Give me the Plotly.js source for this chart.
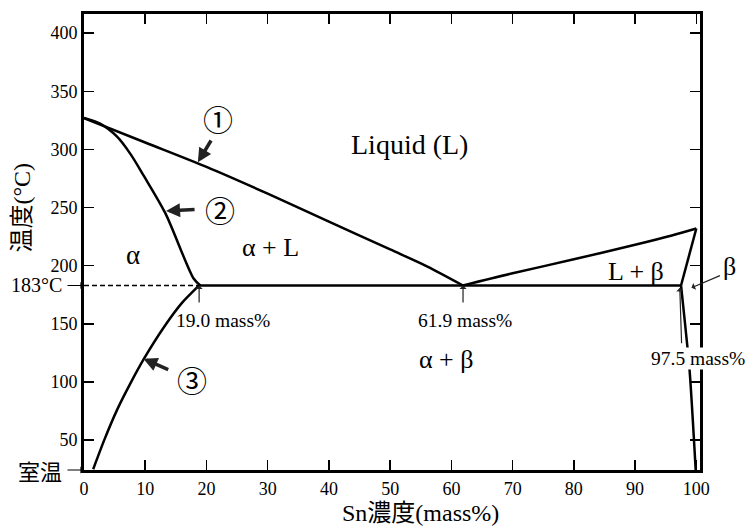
<!DOCTYPE html>
<html>
<head>
<meta charset="utf-8">
<script src="https://cdn.plot.ly/plotly-3.0.1.min.js"></script>
<style>html,body{margin:0;padding:0;background:#fff;}#chart{width:749px;height:531px;}</style>
</head>
<body>
<div id="chart"></div>
<script>
// Pb-Sn phase diagram data (x: Sn mass%, T: °C)
const liquidusLeftX = [0, 10, 20, 30, 40, 50, 56, 61.9];
const liquidusLeftT = [327, 306, 285, 262, 238, 214, 199.5, 183];
const solidusLeftX = [0, 2.7, 5.4, 7.6, 9.8, 13.3, 17.9, 19];
const solidusLeftT = [327, 322, 311, 296, 277, 245, 189, 183];
const solvusLeftX = [1.5, 3.3, 5.4, 7.6, 9.8, 13.1, 16.0, 18.8];
const solvusLeftT = [25, 50, 76, 99, 120, 147.5, 168, 183];
const eutecticX = [18.8, 97.5];
const eutecticT = [183, 183];
const dashedX = [0, 18.8];
const dashedT = [183, 183];
const liquidusRightX = [61.9, 70, 80, 90, 96, 100];
const liquidusRightT = [183, 193.5, 205.5, 218, 226, 232];
const solidusRightX = [97.5, 100];
const solidusRightT = [183, 232];
const solvusRightX = [97.5, 98.9, 99.9];
const solvusRightT = [183, 110, 24];

const xTicks = [0, 10, 20, 30, 40, 50, 60, 70, 80, 90, 100];
const yTicks = [50, 100, 150, 200, 250, 300, 350, 400];

const SERIF = 'Liberation Serif, Noto Sans CJK JP, serif';
const CIRC = 'Noto Sans CJK JP';

function line(x, y, smooth) {
  const l = {color: '#000', width: 2.5};
  if (smooth) { l.shape = 'spline'; l.smoothing = smooth; }
  return {x: x, y: y, mode: 'lines', type: 'scatter', hoverinfo: 'skip',
    line: l, showlegend: false};
}

const traces = [
  line(liquidusLeftX, liquidusLeftT, 0.8),
  line(solidusLeftX, solidusLeftT, 0.8),
  line(solvusLeftX, solvusLeftT, 0.6),
  line(eutecticX, eutecticT),
  {x: dashedX, y: dashedT, mode: 'lines', type: 'scatter', hoverinfo: 'skip', showlegend: false,
    line: {color: '#000', width: 1.3, dash: '5px,3px'}},
  line(liquidusRightX, liquidusRightT, 0.8),
  line(solidusRightX, solidusRightT),
  line(solvusRightX, solvusRightT, 0.6)
];

function txt(x, y, text, size, extra) {
  return Object.assign({x: x, y: y, xref: 'x', yref: 'y', text: text, showarrow: false,
    font: {family: SERIF, size: size, color: '#000'}}, extra || {});
}
function arr(x, y, ax, ay, w, head, size) {
  return {x: x, y: y, ax: ax, ay: ay, xref: 'x', yref: 'y', axref: 'x', ayref: 'y',
    text: '', showarrow: true, arrowcolor: '#222', arrowwidth: w, arrowhead: head, arrowsize: size};
}

const annotations = [
  txt(53.2, 304, 'Liquid (L)', 28),
  txt(30.4, 216, 'α + L', 26),
  txt(8.0, 209, 'α', 27),
  txt(59.2, 119, 'α + β', 26),
  txt(90.2, 195, 'L + β', 26),
  {x: 1.0487, y: 199, xref: 'paper', yref: 'y', xanchor: 'center', text: 'β', showarrow: false,
    font: {family: SERIF, size: 26, color: '#000'}},
  txt(21.9, 327, '①', 30, {font: {family: CIRC, size: 30, color: '#000'}}),
  txt(22.2, 249, '②', 30, {font: {family: CIRC, size: 30, color: '#000'}}),
  txt(17.6, 103, '③', 30, {font: {family: CIRC, size: 30, color: '#000'}}),
  txt(22.7, 153, '19.0 mass%', 19.5),
  txt(62.2, 153, '61.9 mass%', 19.5),
  txt(100.3, 120, '97.5 mass%', 19.5, {bgcolor: '#fff', borderpad: 0}),
  arr(18.6, 289, 20.9, 309, 3.5, 2, 0.8),
  arr(13.4, 247, 18.3, 248.5, 3.5, 2, 0.8),
  arr(9.7, 120, 14.0, 110, 3.5, 2, 0.8),
  arr(18.8, 183, 18.8, 167, 1.2, 1, 1),
  arr(61.9, 183, 61.9, 167, 1.2, 1, 1),
  arr(97.3, 181, 97.6, 132, 1.2, 1, 1),
  arr(99.2, 181, 104.1, 192, 1.2, 1, 1),
  // outside labels on the left
  {x: 0, y: 183, xref: 'x', yref: 'y', ax: -18, ay: 0, text: '', showarrow: true,
    arrowcolor: '#000', arrowwidth: 1.2, arrowhead: 1, arrowsize: 1},
  {x: 0, y: 183, xref: 'x', yref: 'y', xanchor: 'right', xshift: -20, text: '183°C', showarrow: false,
    font: {family: SERIF, size: 20, color: '#000'}},
  {x: 0, y: 24.3, xref: 'x', yref: 'y', ax: -18, ay: 0, text: '', showarrow: true,
    arrowcolor: '#000', arrowwidth: 1.2, arrowhead: 1, arrowsize: 1},
  {x: 0, y: 24.3, xref: 'x', yref: 'y', xanchor: 'right', xshift: -20, text: '室温', showarrow: false,
    font: {family: 'Noto Sans CJK JP', size: 22, color: '#000'}},
  // axis titles
  {x: -0.1006, y: 250, xref: 'paper', yref: 'y', xanchor: 'center', yanchor: 'middle',
    text: '温度(°C)', textangle: -90, showarrow: false,
    font: {family: SERIF, size: 24, color: '#000'}},
  {x: 54.9, y: -0.094, xref: 'x', yref: 'paper', xanchor: 'center', yanchor: 'middle',
    text: 'Sn濃度(mass%)', showarrow: false,
    font: {family: SERIF, size: 24, color: '#000'}}
];

const axisCommon = {
  showgrid: false, zeroline: false, showline: true, linecolor: '#000', linewidth: 3,
  mirror: 'allticks', ticks: 'inside', ticklen: 10, tickwidth: 1.5, tickcolor: '#000',
  tickfont: {family: 'Liberation Serif', size: 18, color: '#000'}
};

const layout = {
  width: 749, height: 531,
  margin: {l: 84, r: 49, t: 14, b: 61},
  paper_bgcolor: '#fff', plot_bgcolor: '#fff',
  showlegend: false,
  xaxis: Object.assign({}, axisCommon, {range: [0, 100.6], tickvals: xTicks, ticktext: xTicks.map(String)}),
  yaxis: Object.assign({}, axisCommon, {range: [24.3, 416.5], tickvals: yTicks, ticktext: yTicks.map(String)}),
  annotations: annotations
};

Plotly.newPlot('chart', traces, layout, {staticPlot: true, displayModeBar: false});
</script>
</body>
</html>
